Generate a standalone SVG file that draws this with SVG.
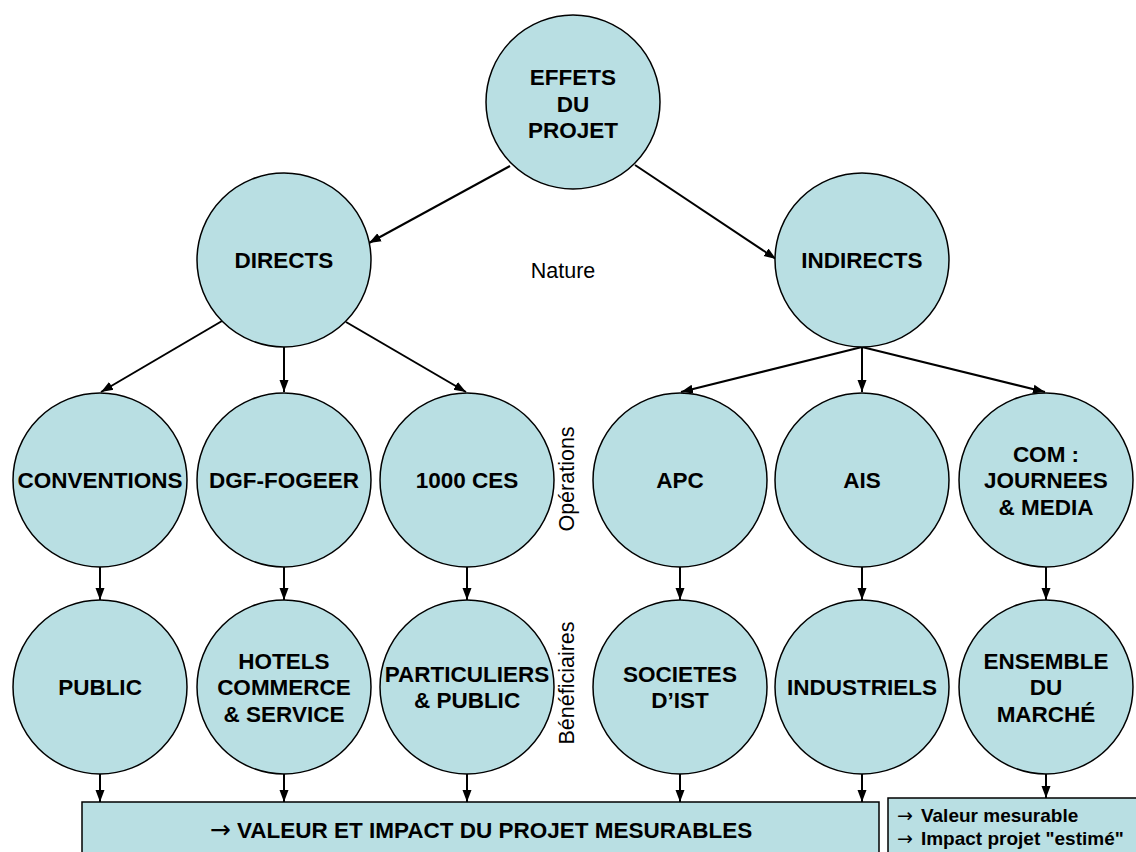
<svg xmlns="http://www.w3.org/2000/svg" width="1136" height="852" viewBox="0 0 1136 852">
  <style>
    .node circle { fill: #b9dfe3; stroke: #000; stroke-width: 1.5; }
    .box { fill: #b9dfe3; stroke: #000; stroke-width: 1.5; }
    .lbl { font-family: "Liberation Sans", Arial, sans-serif; font-weight: bold; font-size: 22.5px; text-anchor: middle; fill: #000; }
    .side { font-family: "Liberation Sans", Arial, sans-serif; font-size: 21.5px; text-anchor: middle; fill: #000; }
    .note { font-family: "Liberation Sans", Arial, sans-serif; font-weight: bold; font-size: 19px; fill: #000; }
    .arr { font-family: "DejaVu Sans", sans-serif; font-weight: normal; }
    .conn line { stroke: #000; stroke-width: 2; marker-end: url(#arrow); }
  </style>
  <defs>
    <marker id="arrow" markerUnits="userSpaceOnUse" markerWidth="12" markerHeight="12" viewBox="0 0 12 12" refX="12" refY="6" orient="auto">
      <path d="M0,1.5 L12,6 L0,10.5 Z" fill="#000"/>
    </marker>
  </defs>

  <rect width="1136" height="852" fill="#fff"/>

  <!-- connectors -->
  <g id="connectors" class="conn">
    <line x1="510" y1="166" x2="369" y2="243"/>
    <line x1="635" y1="165" x2="776" y2="259"/>
    <line x1="222" y1="321" x2="101" y2="392"/>
    <line x1="284" y1="346" x2="284" y2="392"/>
    <line x1="346" y1="322" x2="466" y2="392"/>
    <line x1="862" y1="347" x2="681" y2="392"/>
    <line x1="862" y1="347" x2="862" y2="392"/>
    <line x1="862" y1="347" x2="1045" y2="392"/>
    <line x1="100" y1="567" x2="100" y2="600"/>
    <line x1="284" y1="567" x2="284" y2="600"/>
    <line x1="467" y1="567" x2="467" y2="600"/>
    <line x1="680" y1="567" x2="680" y2="600"/>
    <line x1="862" y1="567" x2="862" y2="600"/>
    <line x1="1046" y1="567" x2="1046" y2="600"/>
    <line x1="100" y1="774" x2="100" y2="802"/>
    <line x1="284" y1="774" x2="284" y2="802"/>
    <line x1="467" y1="774" x2="467" y2="802"/>
    <line x1="680" y1="774" x2="680" y2="802"/>
    <line x1="862" y1="774" x2="862" y2="802"/>
    <line x1="1046" y1="774" x2="1046" y2="798"/>
  </g>

  <!-- root -->
  <g id="effets" class="node">
    <circle cx="573" cy="102" r="87"/>
    <text class="lbl" x="573" y="85">EFFETS</text>
    <text class="lbl" x="573" y="112">DU</text>
    <text class="lbl" x="573" y="138">PROJET</text>
  </g>

  <!-- nature -->
  <g id="directs" class="node">
    <circle cx="284" cy="260" r="87"/>
    <text class="lbl" x="284" y="268">DIRECTS</text>
  </g>
  <g id="indirects" class="node">
    <circle cx="862" cy="260" r="87"/>
    <text class="lbl" x="862" y="268">INDIRECTS</text>
  </g>

  <!-- operations -->
  <g id="conventions" class="node">
    <circle cx="100" cy="480" r="87"/>
    <text class="lbl" x="100" y="488">CONVENTIONS</text>
  </g>
  <g id="dgf" class="node">
    <circle cx="284" cy="480" r="87"/>
    <text class="lbl" x="284" y="488">DGF-FOGEER</text>
  </g>
  <g id="ces" class="node">
    <circle cx="467" cy="480" r="87"/>
    <text class="lbl" x="467" y="488">1000 CES</text>
  </g>
  <g id="apc" class="node">
    <circle cx="680" cy="480" r="87"/>
    <text class="lbl" x="680" y="488">APC</text>
  </g>
  <g id="ais" class="node">
    <circle cx="862" cy="480" r="87"/>
    <text class="lbl" x="862" y="488">AIS</text>
  </g>
  <g id="com" class="node">
    <circle cx="1046" cy="480" r="87"/>
    <text class="lbl" x="1046" y="462">COM :</text>
    <text class="lbl" x="1046" y="488">JOURNEES</text>
    <text class="lbl" x="1046" y="515">&amp; MEDIA</text>
  </g>

  <!-- beneficiaries -->
  <g id="public" class="node">
    <circle cx="100" cy="687" r="87"/>
    <text class="lbl" x="100" y="695">PUBLIC</text>
  </g>
  <g id="hotels" class="node">
    <circle cx="284" cy="687" r="87"/>
    <text class="lbl" x="284" y="669">HOTELS</text>
    <text class="lbl" x="284" y="695">COMMERCE</text>
    <text class="lbl" x="284" y="722">&amp; SERVICE</text>
  </g>
  <g id="particuliers" class="node">
    <circle cx="467" cy="687" r="87"/>
    <text class="lbl" x="467" y="682">PARTICULIERS</text>
    <text class="lbl" x="467" y="708">&amp; PUBLIC</text>
  </g>
  <g id="societes" class="node">
    <circle cx="680" cy="687" r="87"/>
    <text class="lbl" x="680" y="682">SOCIETES</text>
    <text class="lbl" x="680" y="708">D’IST</text>
  </g>
  <g id="industriels" class="node">
    <circle cx="862" cy="687" r="87"/>
    <text class="lbl" x="862" y="695">INDUSTRIELS</text>
  </g>
  <g id="ensemble" class="node">
    <circle cx="1046" cy="687" r="87"/>
    <text class="lbl" x="1046" y="669">ENSEMBLE</text>
    <text class="lbl" x="1046" y="695">DU</text>
    <text class="lbl" x="1046" y="722">MARCHÉ</text>
  </g>

  <!-- level captions -->
  <text class="side" x="563" y="278">Nature</text>
  <text class="side" transform="translate(574,479) rotate(-90)">Opérations</text>
  <text class="side" transform="translate(574,683) rotate(-90)">Bénéficiaires</text>

  <!-- outcome boxes -->
  <g id="mesurables">
    <rect class="box" x="82" y="802" width="797" height="70"/>
    <text class="lbl" x="481" y="838"><tspan class="arr" font-size="25">→</tspan> VALEUR ET IMPACT DU PROJET MESURABLES</text>
  </g>
  <g id="estime">
    <rect class="box" x="888" y="798" width="260" height="70"/>
    <text class="note" x="897" y="822"><tspan class="arr">→</tspan><tspan dx="8">Valeur mesurable</tspan></text>
    <text class="note" x="897" y="845"><tspan class="arr">→</tspan><tspan dx="8">Impact projet "estimé"</tspan></text>
  </g>
</svg>
